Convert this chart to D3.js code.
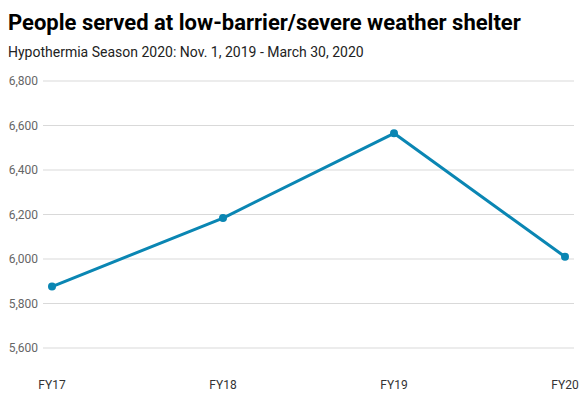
<!DOCTYPE html>
<html><head><meta charset="utf-8">
<script src="https://cdn.jsdelivr.net/npm/d3@7"></script>
<style>body{margin:0;background:#fff;font-family:Roboto,sans-serif}</style>
</head><body><svg id="c" width="587" height="403"></svg>
<script>
const categories = ["FY17","FY18","FY19","FY20"];
const values = [5876, 6184, 6565, 6010];
const yTicks = [5600,5800,6000,6200,6400,6600,6800];
const title = "People served at low-barrier/severe weather shelter";
const subtitle = "Hypothermia Season 2020: Nov. 1, 2019 - March 30, 2020";

const svg = d3.select("#c");
svg.append("text").attr("x",8).attr("y",30).attr("font-size",22).attr("font-weight",700)
  .attr("fill","#000").text(title);
svg.append("text").attr("x",8).attr("y",57).attr("font-size",14).attr("fill","#222").text(subtitle);

const x = d3.scalePoint().domain(categories).range([52,565]);
const y = d3.scaleLinear().domain([5600,6800]).range([348,81]);

const g = svg.append("g");
g.selectAll("line.grid").data(yTicks).join("line").attr("class","grid")
  .attr("x1",43).attr("x2",574).attr("y1",d=>y(d)).attr("y2",d=>y(d))
  .attr("stroke","#d9d9d9").attr("stroke-width",1);
g.selectAll("text.yl").data(yTicks).join("text").attr("class","yl")
  .attr("x",38).attr("y",d=>y(d)).attr("dy","0.35em").attr("text-anchor","end")
  .attr("font-size",12).attr("fill","#666").text(d=>d3.format(",")(d));
g.selectAll("text.xl").data(categories).join("text").attr("class","xl")
  .attr("x",d=>x(d)).attr("y",389).attr("text-anchor","middle")
  .attr("font-size",12).attr("fill","#333").text(d=>d);

const data = categories.map((c,i)=>({c,v:values[i]}));
g.append("path").datum(data).attr("fill","none").attr("stroke","#0a86b3").attr("stroke-width",3)
  .attr("stroke-linejoin","round")
  .attr("d", d3.line().x(d=>x(d.c)).y(d=>y(d.v)));
g.selectAll("circle").data(data).join("circle").attr("cx",d=>x(d.c)).attr("cy",d=>y(d.v))
  .attr("r",4).attr("fill","#0a86b3");
</script></body></html>
